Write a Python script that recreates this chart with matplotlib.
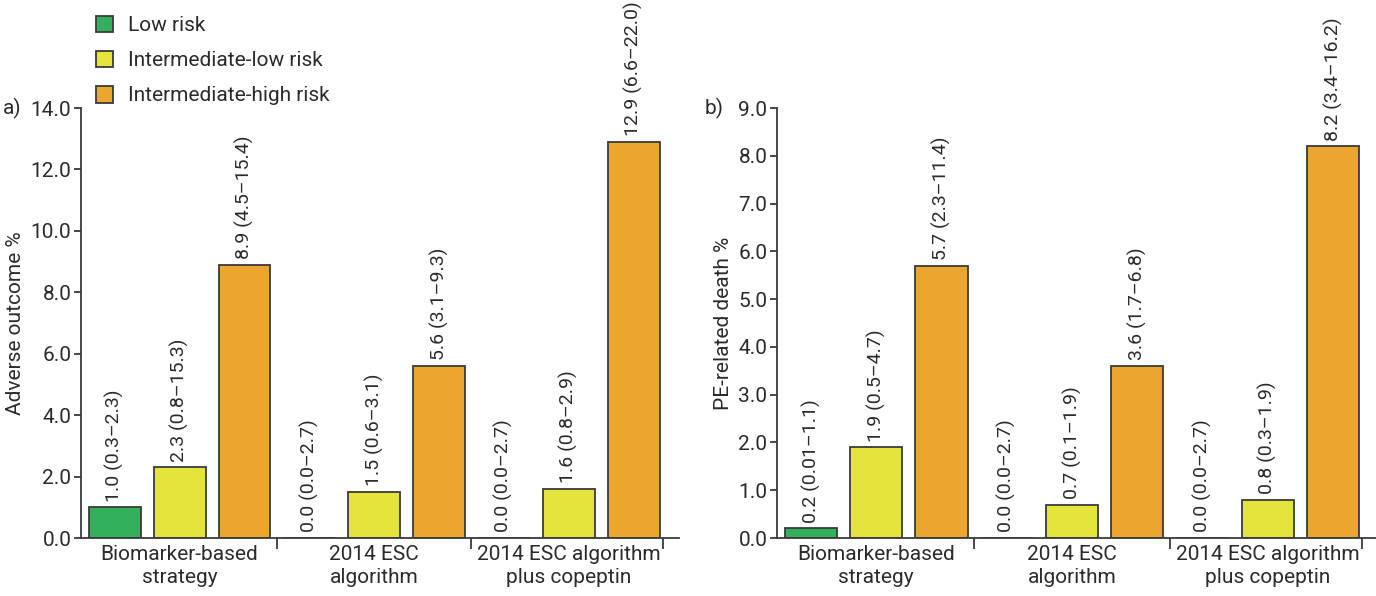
import numpy as np
import matplotlib
matplotlib.use('Agg')
import matplotlib.pyplot as plt
from matplotlib.patches import Patch

plt.rcParams['font.family'] = ['Roboto', 'DejaVu Sans']
plt.rcParams['text.color'] = '#2b2b2b'
plt.rcParams['axes.labelcolor'] = '#2b2b2b'
plt.rcParams['xtick.labelcolor'] = '#2b2b2b'
plt.rcParams['ytick.labelcolor'] = '#2b2b2b'

groups = ['Biomarker-based\nstrategy', '2014 ESC\nalgorithm', '2014 ESC algorithm\nplus copeptin']
risk_names = ['Low risk', 'Intermediate-low risk', 'Intermediate-high risk']
colors = ['#33b05b', '#e4e43c', '#eca62f']

# panel a) adverse outcome %
adverse_low = [1.0, 0.0, 0.0]
adverse_intlow = [2.3, 1.5, 1.6]
adverse_inthigh = [8.9, 5.6, 12.9]
adverse_labels = [
    ['1.0 (0.3–2.3)', '0.0 (0.0–2.7)', '0.0 (0.0–2.7)'],
    ['2.3 (0.8–15.3)', '1.5 (0.6–3.1)', '1.6 (0.8–2.9)'],
    ['8.9 (4.5–15.4)', '5.6 (3.1–9.3)', '12.9 (6.6–22.0)'],
]

# panel b) PE-related death %
death_low = [0.2, 0.0, 0.0]
death_intlow = [1.9, 0.7, 0.8]
death_inthigh = [5.7, 3.6, 8.2]
death_labels = [
    ['0.2 (0.01–1.1)', '0.0 (0.0–2.7)', '0.0 (0.0–2.7)'],
    ['1.9 (0.5–4.7)', '0.7 (0.1–1.9)', '0.8 (0.3–1.9)'],
    ['5.7 (2.3–11.4)', '3.6 (1.7–6.8)', '8.2 (3.4–16.2)'],
]

W, H = 1376, 596
fig = plt.figure(figsize=(W / 100, H / 100), dpi=100)

EDGE = '#3a3a3a'
FS = 15
FS_BAR = 14


def draw_panel(ax, series, labels, ymax, ystep, ylabel, tag, xmax):
    x0 = np.arange(len(groups)) * 3
    for j, vals in enumerate(series):
        xs = x0 + j
        ax.bar(xs, vals, width=0.8, color=colors[j], edgecolor=EDGE, linewidth=1.3, zorder=2)
        for x, v, lab in zip(xs, vals, labels[j]):
            ax.annotate(lab, (x, v), xytext=(0, 4), textcoords='offset points',
                        rotation=90, ha='center', va='bottom', fontsize=FS_BAR)
    ax.set_xlim(-0.52, xmax)
    ax.set_ylim(0, ymax)
    ticks = np.arange(0, ymax + 0.01, ystep)
    ax.set_yticks(ticks)
    ax.set_yticklabels([f'{t:.1f}' for t in ticks])
    ax.set_xticks([2.5, 5.5, 8.45])
    ax.set_xticklabels([])
    ax.set_xticks(x0 + 1, minor=True)
    ax.set_xticklabels(groups, minor=True, fontsize=FS, linespacing=1.3)
    ax.tick_params(axis='x', which='minor', length=0, pad=5)
    ax.tick_params(axis='x', which='major', length=8, width=1.3, color=EDGE)
    ax.tick_params(axis='y', length=5, width=1.3, color=EDGE, labelsize=FS, pad=2)
    for s in ['top', 'right']:
        ax.spines[s].set_visible(False)
    for s in ['left', 'bottom']:
        ax.spines[s].set_color(EDGE)
        ax.spines[s].set_linewidth(1.3)
    ax.set_ylabel(ylabel, fontsize=FS, labelpad=4)
    ax.text(-0.13, 1.0, tag, transform=ax.transAxes, fontsize=FS, ha='left', va='center')


bottom = 58 / H
height = 430 / H
ax1 = fig.add_axes([81 / W, bottom, 598 / W, height])
ax2 = fig.add_axes([777 / W, bottom, 599 / W, height])

draw_panel(ax1, [adverse_low, adverse_intlow, adverse_inthigh], adverse_labels,
           14.0, 2.0, 'Adverse outcome %', 'a)', 8.7)
draw_panel(ax2, [death_low, death_intlow, death_inthigh], death_labels,
           9.0, 1.0, 'PE-related death %', 'b)', 8.66)
ax2.texts[-1].set_x(-0.12)

handles = [Patch(facecolor=c, edgecolor=EDGE, linewidth=1.3) for c in colors]
fig.legend(handles, risk_names, loc='upper left', bbox_to_anchor=(80 / W, 1.0),
           frameon=False, fontsize=FS, handlelength=0.85, handleheight=0.85,
           handletextpad=0.7, labelspacing=0.75, borderaxespad=0.35)

fig.savefig('out.png', dpi=100)
